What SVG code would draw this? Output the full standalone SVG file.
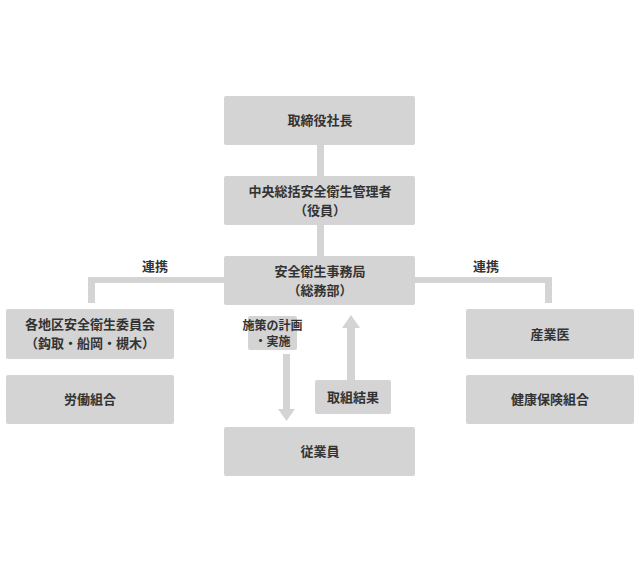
<svg xmlns="http://www.w3.org/2000/svg" width="640" height="573" viewBox="0 0 640 573">
<style>
.b{fill:#d4d4d4}
.t{font-family:"Noto Sans CJK JP","Noto Sans CJK SC",sans-serif;font-size:13px;font-weight:bold;fill:#333;text-anchor:middle}
.c{fill:#d4d4d4}
</style>
<rect width="640" height="573" fill="#fff"/>
<g id="connectors">
<rect class="c" x="317" y="145" width="7" height="31"/>
<rect class="c" x="317" y="225" width="7" height="31"/>
<path class="c" d="M224 277H88V303H95V283H224Z"/>
<path class="c" d="M415 277H552V303H545V283H415Z"/>
<rect class="c" x="283" y="354" width="7" height="56"/>
<path class="c" d="M278 409L286.5 421L295 409Z"/>
<rect class="c" x="347" y="326" width="8" height="54"/>
<path class="c" d="M342 328L351 315L360 328Z"/>
<text class="t" x="155" y="271">連携</text>
<text class="t" x="486" y="271">連携</text>
</g>
<g id="n1"><rect class="b" x="224" y="96" width="191" height="49" rx="2"/><text class="t" x="320" y="125">取締役社長</text></g>
<g id="n2"><rect class="b" x="224" y="176" width="191" height="49" rx="2"/><text class="t" x="320" y="196">中央総括安全衛生管理者</text><text class="t" x="320" y="215">（役員）</text></g>
<g id="n3"><rect class="b" x="224" y="256" width="191" height="49" rx="2"/><text class="t" x="320" y="276">安全衛生事務局</text><text class="t" x="320" y="295">（総務部）</text></g>
<g id="n4"><rect class="b" x="6" y="309" width="168" height="50" rx="2"/><text class="t" x="90" y="329">各地区安全衛生委員会</text><text class="t" x="90" y="348">（鈎取・船岡・槻木）</text></g>
<g id="n5"><rect class="b" x="6" y="375" width="168" height="49" rx="2"/><text class="t" x="90" y="404">労働組合</text></g>
<g id="n6"><rect class="b" x="248" y="316" width="49" height="34" rx="2"/><text class="t" x="272.5" y="330" style="font-size:12px">施策の計画</text><text class="t" x="272.5" y="346" style="font-size:12px">・実施</text></g>
<g id="n7"><rect class="b" x="315" y="380" width="76" height="34" rx="2"/><text class="t" x="353" y="402">取組結果</text></g>
<g id="n8"><rect class="b" x="224" y="427" width="191" height="49" rx="2"/><text class="t" x="320" y="456">従業員</text></g>
<g id="n9"><rect class="b" x="466" y="309" width="168" height="50" rx="2"/><text class="t" x="550" y="339">産業医</text></g>
<g id="n10"><rect class="b" x="466" y="375" width="168" height="49" rx="2"/><text class="t" x="550" y="404">健康保険組合</text></g>
</svg>
